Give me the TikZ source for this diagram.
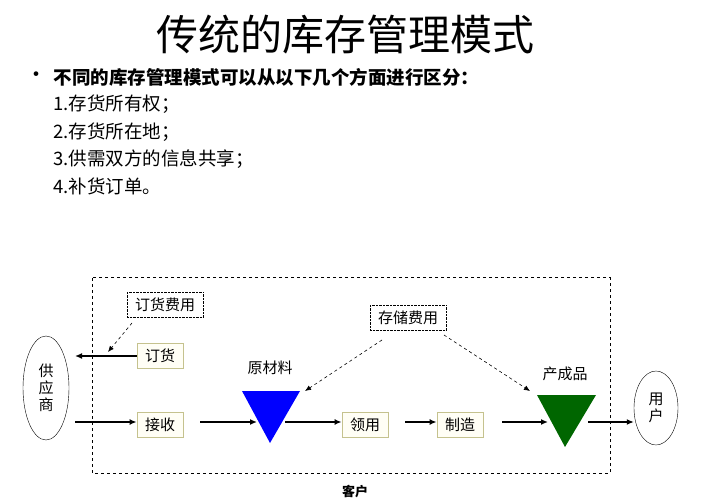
\documentclass[tikz,border=0pt]{standalone}
\usepackage{fontspec}
\setmainfont{Noto Sans CJK SC}
\usetikzlibrary{arrows.meta,shapes.geometric}
\tikzset{
 pbox/.style={draw=black!30!olive!40, fill=yellow!4, line width=0.8pt, minimum width=46pt, minimum height=25pt, inner sep=1pt, font=\fontsize{15}{15}\selectfont},
 cbox/.style={draw, densely dotted, fill=white, minimum width=76pt, minimum height=25pt, inner sep=1pt, font=\fontsize{15}{15}\selectfont},
 flow/.style={line width=1.5pt, -{Latex[length=7pt,width=6pt]}},
 cost/.style={dashed, line width=0.6pt, -{Latex[length=6pt,width=5pt]}},
 lbl/.style={font=\fontsize{15}{17}\selectfont},
 list/.style={anchor=west, font=\fontsize{18.5}{18.5}\selectfont}
}
\begin{document}
\begin{tikzpicture}[x=1pt,y=-1pt]
\useasboundingbox (0,0) rectangle (701,502);
\node (title) at (345,35) {\fontsize{42}{42}\selectfont 传统的库存管理模式};
\node (bul) at (36,77) {\fontsize{22}{22}\selectfont •};
\node[list] (l0) at (50,77) {\bfseries 不同的库存管理模式可以从以下几个方面进行区分：};
\node[list] (l1) at (50,104) {1.存货所有权；};
\node[list] (l2) at (50,132) {2.存货所在地；};
\node[list] (l3) at (50,159) {3.供需双方的信息共享；};
\node[list] (l4) at (50,186) {4.补货订单。};
\draw[dashed, line width=1pt] (92,278) rectangle (610,473);
\node[font=\bfseries\fontsize{13}{13}\selectfont] (kehu) at (355,492) {客户};
\node[draw, ellipse, minimum width=46pt, minimum height=104pt, inner sep=0pt, lbl, align=center] (sup) at (46,388) {供\\应\\商};
\node[draw, ellipse, minimum width=44pt, minimum height=74pt, inner sep=0pt, lbl, align=center] (user) at (656,408) {用\\户};
\node[cbox] (ofee) at (165,305) {订货费用};
\node[cbox] (sfee) at (408,318) {存储费用};
\node[pbox] (order) at (160,356) {订货};
\node[pbox] (recv) at (160,425) {接收};
\node[pbox] (use) at (365,425) {领用};
\node[pbox] (make) at (460,425) {制造};
\coordinate (supin) at (75,356);
\coordinate (supout) at (75,422);
\coordinate (ohit) at (108,352);
\fill[blue] (242,391) -- (300,391) -- (270,443) -- cycle;
\fill[green!40!black] (537,395) -- (596,395) -- (565,447) -- cycle;
\node[lbl] (raw) at (270,368) {原材料};
\node[lbl] (fin) at (565,374) {产成品};
\coordinate (t1a) at (200,422); \coordinate (t1b) at (257,422);
\coordinate (t2a) at (285,422);
\coordinate (m2) at (405,422);
\coordinate (g1a) at (502,422); \coordinate (g1b) at (548,422);
\coordinate (g2a) at (588,422);
\coordinate (rawhit) at (305,391); \coordinate (finhit) at (530,391);
\draw[flow] (order.west) -- (supin);
\draw[flow] (supout) -- (recv.west|-supout);
\draw[flow] (t1a) -- (t1b);
\draw[flow] (t2a) -- (use.west|-t2a);
\draw[flow] (m2) -- (make.west|-m2);
\draw[flow] (g1a) -- (g1b);
\draw[flow] (g2a) -- (user.west|-g2a);
\draw[cost] (132,323) -- (ohit);
\draw[cost] (382,340) -- (rawhit);
\draw[cost] (444,335) -- (finhit);
\end{tikzpicture}
\end{document}
